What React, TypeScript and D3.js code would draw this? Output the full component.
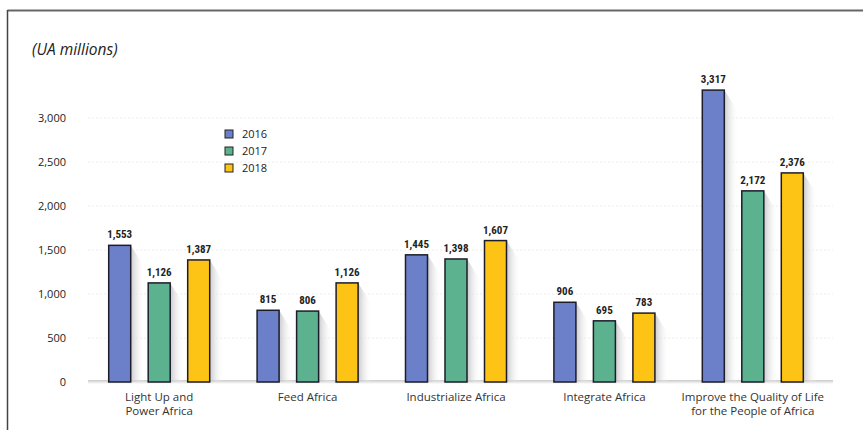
import React from "react";
import * as d3 from "d3";

const categories = [
  ["Light Up and", "Power Africa"],
  ["Feed Africa"],
  ["Industrialize Africa"],
  ["Integrate Africa"],
  ["Improve the Quality of Life", "for the People of Africa"],
];
const years = ["2016", "2017", "2018"];
const values2016 = [1553, 815, 1445, 906, 3317];
const values2017 = [1126, 806, 1398, 695, 2172];
const values2018 = [1387, 1126, 1607, 783, 2376];
const yTicks = [0, 500, 1000, 1500, 2000, 2500, 3000];
const colors = ["#6b80c8", "#5cb28e", "#fdc416"];

export default function App() {
  const W = 863, H = 430;
  const series = [values2016, values2017, values2018];
  const x0 = d3.scaleBand<number>().domain(d3.range(categories.length)).range([85, 827]);
  const c = x0.bandwidth() / 2;
  const x1 = d3.scaleBand<number>().domain([0, 1, 2]).range([c - 50.5, c + 50.5]).paddingInner(0.443).paddingOuter(0);
  const y = d3.scaleLinear().domain([0, 3000]).range([382, 118]);
  const fmt = d3.format(",");
  const bw = x1.bandwidth();

  return (
    <svg width={W} height={H} style={{ position: "absolute", left: 0, top: 0, background: "#fff" }}>
      <defs>
        <linearGradient id="sh" x1="0" x2="1" y1="0" y2="0">
          <stop offset="0" stopColor="#c4c4c8" stopOpacity="0.9" />
          <stop offset="1" stopColor="#ffffff" stopOpacity="0" />
        </linearGradient>
        <linearGradient id="base" x1="0" x2="0" y1="0" y2="1">
          <stop offset="0" stopColor="#bbb" />
          <stop offset="1" stopColor="#fff" />
        </linearGradient>
      </defs>
      {/* frame */}
      <line x1={7.5} x2={863} y1={10.5} y2={10.5} stroke="#666" strokeWidth={2} />
      <line x1={7.5} x2={7.5} y1={10} y2={430} stroke="#444" strokeWidth={1.5} />
      <text x={32} y={55} fontFamily="'Open Sans', sans-serif" fontStyle="italic" fontSize={15.5} fill="#222">(UA millions)</text>
      {/* gridlines */}
      {yTicks.map((t) => (
        <g key={t}>
          {t > 0 && (
            <line x1={88} x2={833} y1={y(t)} y2={y(t)} stroke="#ececec" strokeWidth={1} strokeDasharray="2,2" />
          )}
          <text x={66} y={y(t) + 4} textAnchor="end" fontFamily="'Open Sans', sans-serif" fontSize={11} fill="#222">{fmt(t)}</text>
        </g>
      ))}
      {/* baseline */}
      <rect x={88} y={y(0) - 2} width={745} height={4} fill="url(#base)" opacity={0.8} />
      {/* bars */}
      {categories.map((_, i) => (
        <g key={i} transform={`translate(${x0(i)},0)`}>
          {series.map((s, j) => {
            const bx = x1(j)!;
            const top = y(s[i]);
            const h = y(0) - top;
            const sw = 14;
            return (
              <g key={j}>
                <polygon
                  points={`${bx + bw},${top} ${bx + bw + sw},${top + 22} ${bx + bw + sw},${y(0)} ${bx + bw},${y(0)}`}
                  fill="url(#sh)"
                />
                <rect x={bx} y={top} width={bw} height={h} fill={colors[j]} stroke="#1c1c2a" strokeWidth={1.5} />
                <text x={bx + bw / 2} y={top - 7} textAnchor="middle" fontFamily="'Liberation Sans Narrow', 'Roboto Condensed', 'Liberation Sans', sans-serif" fontWeight="bold" fontSize={11} fill="#222">{fmt(s[i])}</text>
              </g>
            );
          })}
          {categories[i].map((line, k) => (
            <text key={k} x={c} y={401 + k * 14} textAnchor="middle" fontFamily="'Open Sans', sans-serif" fontSize={11.5} fill="#333">{line}</text>
          ))}
        </g>
      ))}
      {/* legend */}
      {years.map((yr, j) => (
        <g key={yr} transform={`translate(225,${130 + j * 17})`}>
          <rect x={0} y={0} width={8} height={8} fill={colors[j]} stroke="#222" strokeWidth={1} />
          <text x={17} y={8} fontFamily="'Open Sans', sans-serif" fontSize={11} fill="#222">{yr}</text>
        </g>
      ))}
    </svg>
  );
}
